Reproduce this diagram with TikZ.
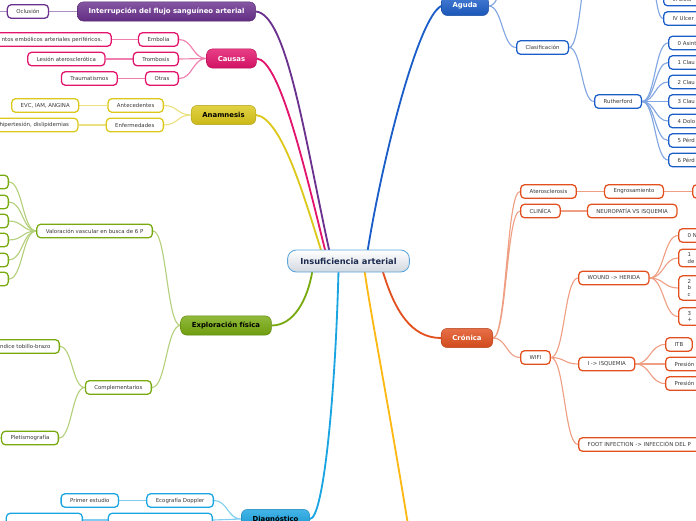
\documentclass[tikz,border=0pt]{standalone}
\usepackage{fontspec}
\setmainfont{DejaVu Sans}
\usepackage{xcolor}
\usepackage{tikz}
\usetikzlibrary{positioning, calc, backgrounds}
\definecolor{mypurple}{HTML}{6A318E}
\definecolor{mymagenta}{HTML}{E3146C}
\definecolor{myyellow}{HTML}{DCC81A}
\definecolor{mygreen}{HTML}{78AA10}
\definecolor{mycyan}{HTML}{1AA4E2}
\definecolor{myamber}{HTML}{FDB813}
\definecolor{myblue}{HTML}{1C5EC8}
\definecolor{myorange}{HTML}{E2501F}
\definecolor{myroot}{HTML}{5AA6DC}
\definecolor{myrootgrey}{HTML}{D2D8E0}
\definecolor{mynavy}{HTML}{1B2A4E}
\definecolor{mytext}{HTML}{383838}
\newcommand{\leaffont}{\fontsize{3.85}{4.7}\selectfont}
\newcommand{\branchfont}{\fontsize{4.9}{5.9}\selectfont\bfseries}
\newcommand{\rootfont}{\fontsize{5.9}{6.9}\selectfont\bfseries}
\tikzstyle{root} = [rectangle, rounded corners=0.22cm, minimum height=0.55cm, inner xsep=0.32cm, draw=myroot, line width=0.6pt, top color=white, bottom color=myrootgrey, font=\rootfont, text=mynavy]
\tikzset{
  leaf/.style={rectangle, rounded corners=0.1cm, draw=#1, line width=0.9pt, fill=white, minimum height=0.34cm, inner xsep=0.225cm, inner ysep=2.5pt, font=\leaffont, text=mytext},
  branch/.style={rectangle, rounded corners=0.15cm, minimum height=0.48cm, inner xsep=0.28cm, font=\branchfont, text=white, draw=#1!80!black, line width=0.3pt, top color=#1!82!white, bottom color=#1!92!black},
  cutl/.style={text width=#1, align=right},
  cutr/.style={text width=#1, align=left},
  twig/.style={draw=#1!55!white, line width=0.8pt, to path={let \p1=(\tikztostart), \p2=(\tikztotarget), \n1={0.5*\x1+0.5*\x2} in .. controls (\n1,\y1) and (\n1,\y2) .. (\p2) \tikztonodes}},
  trunk/.style={draw=#1, line width=1.3pt}
}

\begin{document}
\begin{tikzpicture}[x=0.025cm, y=-0.025cm]
    \useasboundingbox (0,0) rectangle (696,520);
    \clip (0,0) rectangle (696,520);

    \node (root) [root] at (348.5,261) {Insuficiencia arterial};

    % left side
    \node (interr) [branch=mypurple] at (166.5,11.5) {Interrupción del flujo sanguíneo arterial};
    \node (oclu) [leaf=mypurple, left=0.7cm of interr] {Oclusión};
    \coordinate (oclu1) at (-20,11.5);

    \node (causas) [branch=mymagenta] at (231.5,58.5) {Causas};
    \node (embolia) [leaf=mymagenta, anchor=east] at (179,39.5) {Embolia};
    \node (emb1) [leaf=mymagenta, cutl=2.9cm, left=0.65cm of embolia] {ntos embólicos arteriales periféricos.};
    \node (trombo) [leaf=mymagenta, anchor=east] at (179,59) {Trombosis};
    \node (lesion) [leaf=mymagenta, left=0.675cm of trombo] {Lesión aterosclerótica};
    \node (otras) [leaf=mymagenta, anchor=east] at (179,78.5) {Otras};
    \node (trauma) [leaf=mymagenta, left=0.675cm of otras] {Traumatismos};

    \node (anam) [branch=myyellow, text=black] at (223.5,115) {Anamnesis};
    \node (antec) [leaf=myyellow, anchor=east] at (164,105.5) {Antecedentes};
    \node (evc) [leaf=myyellow, left=0.7cm of antec] {EVC, IAM, ANGINA};
    \node (enfer) [leaf=myyellow, anchor=east] at (164,125) {Enfermedades};
    \node (hiper) [leaf=myyellow, cutl=2.6cm, left=0.675cm of enfer] {hipertesión, dislipidemias};

    \node (explor) [branch=mygreen, text=black] at (226,325.5) {Exploración física};
    \node (valor) [leaf=mygreen, anchor=east] at (153,231) {Valoración vascular en busca de 6 P};
    \foreach \y [count=\i] in {182,202,221,240,260,279}
        \node (p\i) [leaf=mygreen, minimum width=1.2cm, anchor=east] at (9,\y) {};
    \node (compl) [leaf=mygreen, anchor=east] at (152,387.5) {Complementarios};
    \node (itb) [leaf=mygreen, anchor=east] at (60,346.5) {Índice tobillo-brazo};
    \node (pletis) [leaf=mygreen, anchor=east] at (59,438) {Pletismografía};
    \coordinate (pletis1) at (-20,438);

    \node (diag) [branch=mycyan, text=black] at (275.5,519) {Diagnóstico};
    \node (eco) [leaf=mycyan, anchor=east] at (214,500.5) {Ecografía Doppler};
    \node (primer) [leaf=mycyan, left=0.675cm of eco] {Primer estudio};
    \node (diag2) [leaf=mycyan, minimum width=2.6cm, anchor=east] at (213,520) {};
    \node (diag3) [leaf=mycyan, minimum width=1.9cm, anchor=east] at (83,520) {};

    \coordinate (amber) at (420,600);

    % right side
    \node (aguda) [branch=myblue] at (465,6) {Aguda};
    \coordinate (aguda1) at (516,-40);
    \node (clasif) [leaf=myblue, anchor=west] at (516,47.5) {Clasificación};
    \coordinate (fontw) at (594,-50);
    \coordinate (fonte) at (645,-50);
    \node (iii) [leaf=myblue, cutr=2cm, anchor=west] at (663,-1) {III Dolo};
    \node (iv) [leaf=myblue, cutr=2cm, anchor=west] at (663,18.5) {IV Ulcer};
    \node (ruther) [leaf=myblue, anchor=west] at (594,101.5) {Rutherford};
    \foreach \t [count=\i from 0] in {0 Asint, 1 Clau, 2 Clau, 3 Clau, 4 Dolo, 5 Pérd, 6 Pérd}
        \node (r\i) [leaf=myblue, cutr=2cm, anchor=west] at (668,{43+19.5*\i}) {\t};

    \node (cronica) [branch=myorange] at (467,338) {Crónica};
    \node (ateros) [leaf=myorange, anchor=west] at (520,191.5) {Aterosclerosis};
    \node (engros) [leaf=myorange, right=0.675cm of ateros] {Engrosamiento};
    \node (engros1) [leaf=myorange, minimum width=1.5cm, right=0.7cm of engros] {};
    \node (clini) [leaf=myorange, anchor=west] at (520,211) {CLINÍCA};
    \node (neuro) [leaf=myorange, right=0.65cm of clini] {NEUROPATÍA VS ISQUEMIA};
    \node (wifi) [leaf=myorange, anchor=west] at (520,357.5) {WIFI};
    \node (wound) [leaf=myorange, anchor=west] at (578,278) {WOUND -> HERIDA};
    \node (w0) [leaf=myorange, cutr=1.5cm, anchor=west] at (678,235.5) {0 N};
    \node (w1) [leaf=myorange, cutr=1.5cm, anchor=west] at (678,258) {1\\de};
    \node (w2) [leaf=myorange, cutr=1.5cm, anchor=west] at (678,288) {2\\b\\c};
    \node (w3) [leaf=myorange, cutr=1.5cm, anchor=west] at (678,316.5) {3\\+};
    \node (isq) [leaf=myorange, anchor=west] at (578,364) {I -> ISQUEMIA};
    \node (i1) [leaf=myorange, anchor=west] at (665,344.5) {ITB};
    \node (i2) [leaf=myorange, cutr=2cm, anchor=west] at (665,364) {Presión};
    \node (i3) [leaf=myorange, cutr=2cm, anchor=west] at (665,383.5) {Presión};
    \node (foot) [leaf=myorange, cutr=4cm, anchor=west] at (578,444.5) {FOOT INFECTION -> INFECCIÓN DEL P};

    \begin{scope}[on background layer]
    \clip (0,0) rectangle (696,520);
    % main branches
    \draw [trunk=mypurple] (interr.east) .. controls (287,14) and (305,140) .. ($(root.north)+(-19,2)$);
    \draw [trunk=mymagenta] (causas.east) .. controls (280,60) and (305,170) .. ($(root.north)+(-23,2)$);
    \draw [trunk=myyellow] (anam.east) .. controls (282,118) and (305,200) .. ($(root.north)+(-27,2)$);
    \draw [trunk=mygreen] (explor.east) .. controls +(22,0) and +(-5,30) .. ($(root.south)+(-36,-2)$);
    \draw [trunk=mycyan] (diag.east) .. controls +(14,0) and +(-3,120) .. ($(root.south)+(-10,-2)$);
    \draw [trunk=myamber] ($(root.south)+(16,-2)$) .. controls +(7,50) and +(-28,-180) .. (amber);
    \draw [trunk=myorange] ($(root.south)+(34,-2)$) .. controls +(12,40) and +(-30,0) .. (cronica.west);
    \draw [trunk=myblue] ($(root.north)+(19,2)$) .. controls (382,160) and (418,18) .. (aguda.west);

    % left twigs
    \draw [twig=mypurple] (interr.west) -- (oclu.east) (oclu.west) -- (oclu1);
    \draw [twig=mymagenta] (causas.west) to (embolia.east) (causas.west) to (trombo.east) (causas.west) to (otras.east);
    \draw [twig=mymagenta] (embolia.west) -- (emb1.east) (trombo.west) -- (lesion.east) (otras.west) -- (trauma.east);
    \draw [twig=myyellow] (anam.west) to (antec.east) (anam.west) to (enfer.east);
    \draw [twig=myyellow] (antec.west) -- (evc.east) (enfer.west) -- (hiper.east);
    \draw [twig=mygreen] (explor.west) to (valor.east) (explor.west) to (compl.east);
    \foreach \i in {1,...,6}
        \draw [twig=mygreen] (valor.west) to (p\i.east);
    \draw [twig=mygreen] (compl.west) to (itb.east) (compl.west) to (pletis.east) (pletis.west) -- (pletis1);
    \draw [twig=mycyan] (diag.west) to (eco.east) (diag.west) to (diag2.east);
    \draw [twig=mycyan] (eco.west) -- (primer.east) (diag2.west) -- (diag3.east);

    % right twigs
    \draw [twig=myblue] (aguda.east) to (aguda1) (aguda.east) to (clasif.west);
    \draw [twig=myblue] (clasif.east) to (fontw) (clasif.east) to (ruther.west);
    \draw [twig=myblue] (fonte) to (iii.west) (fonte) to (iv.west);
    \foreach \i in {0,...,6}
        \draw [twig=myblue] (ruther.east) to (r\i.west);
    \draw [twig=myorange] (cronica.east) to (ateros.west) (cronica.east) to (clini.west) (cronica.east) to (wifi.west);
    \draw [twig=myorange] (ateros.east) -- (engros.west) (engros.east) -- (engros1.west) (clini.east) -- (neuro.west);
    \draw [twig=myorange] (wifi.east) to (wound.west) (wifi.east) to (isq.west) (wifi.east) to (foot.west);
    \foreach \i in {0,...,3}
        \draw [twig=myorange] (wound.east) to (w\i.west);
    \foreach \i in {1,...,3}
        \draw [twig=myorange] (isq.east) to (i\i.west);
    \end{scope}
\end{tikzpicture}
\end{document}
